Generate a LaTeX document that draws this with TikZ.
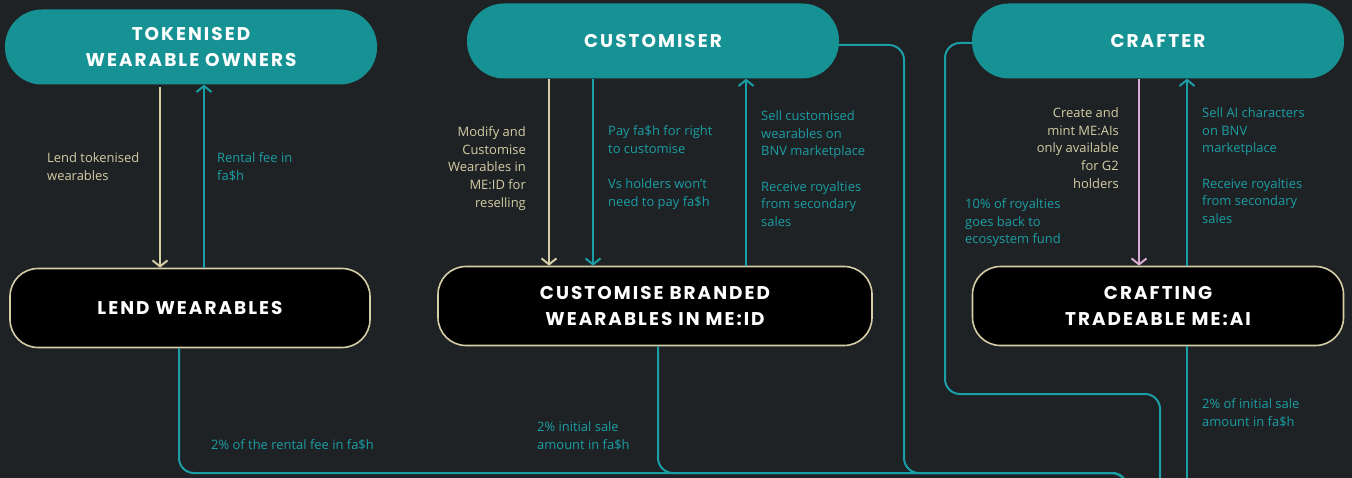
\documentclass[tikz,border=0pt]{standalone}
\usepackage{fontspec}
\setmainfont{Open Sans}
\newfontfamily\headfont{Poppins}[LetterSpace=11]
\usetikzlibrary{arrows.meta}
\definecolor{bgdark}{HTML}{1F2224}
\definecolor{tealfill}{HTML}{179294}
\definecolor{tealline}{HTML}{1A9EA5}
\definecolor{beige}{HTML}{D4CDA6}
\definecolor{pinkline}{HTML}{D9AAD2}
\tikzset{
  role/.style={fill=tealfill,rounded corners=37bp,minimum height=75bp,minimum width=372bp,
    text=white,align=center,font=\headfont\bfseries\fontsize{18.5}{27}\selectfont},
  stage/.style={fill=black,draw=beige,line width=1.6bp,rounded corners=28bp,minimum height=79bp,
    text=white,align=center,font=\headfont\bfseries\fontsize{18.5}{27}\selectfont},
  flow/.style={line width=2bp},
  tip/.style={-{Straight Barb[length=6bp,width=15bp,line width=2bp]}},
  note/.style={inner sep=0pt,font=\fontsize{13}{17.7}\selectfont},
}
\begin{document}
\begin{tikzpicture}[x=1bp,y=-1bp]
\useasboundingbox[fill=bgdark](0,0) rectangle (1352,478);
% the three roles
\node[role] (owners) at (191,47) {TOKENISED\\WEARABLE OWNERS};
\node[role] (customiser) at (653,41) {CUSTOMISER};
\node[role] (crafter) at (1158,41) {CRAFTER};
% the three stages
\node[stage,minimum width=360bp] (lend) at (190,308) {LEND WEARABLES};
\node[stage,minimum width=434bp] (custom) at (655,306) {CUSTOMISE BRANDED\\WEARABLES IN ME:ID};
\node[stage,minimum width=371bp] (crafting) at (1158,306) {CRAFTING\\TRADEABLE ME:AI};
% lending
\draw[flow,beige,tip,shorten <=2bp](160,0 |- owners.south) -- (160,0 |- lend.north);
\draw[flow,tealline,tip](204,0 |- lend.north) -- (204,0 |- owners.south);
\node[note,beige,anchor=north west,align=left] (lendnote) at (47,152.5) {Lend tokenised\\wearables};
\node[note,tealline,anchor=north west,align=left] (rentnote) at (217,152.5) {Rental fee in\\fa\$h};
% customising
\draw[flow,beige,tip](549,0 |- customiser.south) -- (549,0 |- custom.north);
\draw[flow,tealline,tip](593,0 |- customiser.south) -- (593,0 |- custom.north);
\draw[flow,tealline,tip](746,0 |- custom.north) -- (746,0 |- customiser.south);
\node[note,beige,anchor=north east,align=right] (modifynote) at (526,126.5) {Modify and\\Customise\\Wearables in\\ME:ID for\\reselling};
\node[note,tealline,anchor=north west,align=left] (paynote) at (608,125.5) {Pay fa\$h for right\\to customise\\[17.7bp]Vs holders won't\\need to pay fa\$h};
\node[note,tealline,anchor=north west,align=left] (sellnote) at (761,110.5) {Sell customised\\wearables on\\BNV marketplace\\[17.7bp]Receive royalties\\from secondary\\sales};
% crafting
\draw[flow,pinkline,tip](1139,0 |- crafter.south) -- (1139,0 |- crafting.north);
\draw[flow,tealline,tip](1187,0 |- crafting.north) -- (1187,0 |- crafter.south);
\node[note,beige,anchor=north east,align=right] (mintnote) at (1119,107.5) {Create and\\mint ME:AIs\\only available\\for G2\\holders};
\node[note,tealline,anchor=north west,align=left] (fundnote) at (965,198.5) {10\% of royalties\\goes back to\\ecosystem fund};
\node[note,tealline,anchor=north west,align=left] (aisellnote) at (1202,107.5) {Sell AI characters\\on BNV\\marketplace\\[17.7bp]Receive royalties\\from secondary\\sales};
% fees running out at the bottom
\coordinate (fundexit) at (1127,500);
\coordinate (fundcorner) at (1127,473);
\coordinate (craftexit) at (1160,500);
\coordinate (saleexit) at (1187,500);
\draw[flow,tealline,rounded corners=15bp](179,0 |- lend.south) |- (fundcorner) -- (fundexit);
\draw[flow,tealline,rounded corners=15bp](658,0 |- custom.south) |- (fundcorner) -- (fundexit);
\draw[flow,tealline,rounded corners=15bp]([yshift=-4bp]customiser.east) -| (904,473) -- (fundcorner) -- (fundexit);
\draw[flow,tealline,rounded corners=15bp]([yshift=-2bp]crafter.west) -| (945,394) -| (craftexit);
\draw[flow,tealline](1187,0 |- crafting.south) -- (saleexit);
\node[note,tealline,anchor=north west,align=left] (rentcut) at (211,439.5) {2\% of the rental fee in fa\$h};
\node[note,tealline,anchor=north west,align=left] (salecut) at (537,421.5) {2\% initial sale\\amount in fa\$h};
\node[note,tealline,anchor=north west,align=left] (aicut) at (1202,398.5) {2\% of initial sale\\amount in fa\$h};
\end{tikzpicture}
\end{document}
